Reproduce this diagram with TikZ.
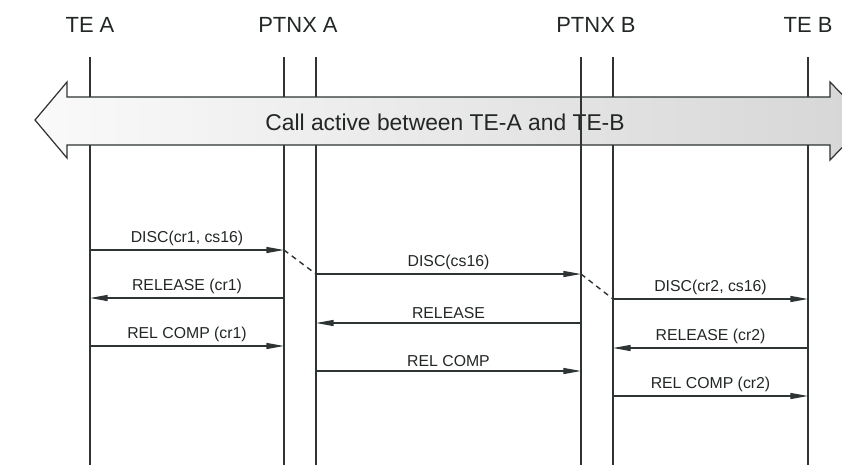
\documentclass[tikz,border=0pt]{standalone}
\usepackage{fontspec}
\setmainfont{Liberation Sans}
\usetikzlibrary{arrows.meta, calc}
\definecolor{inkgray}{HTML}{2E3333}
\definecolor{textgray}{HTML}{222626}

\begin{document}
\begin{tikzpicture}[
  x=0.02cm, y=-0.02cm,
  lifeHead/.style={font=\fontsize{12.5}{14}\selectfont, text=textgray, inner sep=0pt},
  lifeLine/.style={draw=inkgray, line width=1.5pt},
  msg/.style={draw=inkgray, line width=0.7pt, -{Triangle[length=10pt, width=3.4pt]}},
  msgLabel/.style={font=\fontsize{9}{10}\selectfont, text=textgray, midway, above, inner sep=2pt},
  relay/.style={draw=inkgray, line width=0.8pt, dash pattern=on 3pt off 2.5pt},
  callBand/.style={draw=inkgray, line width=0.7pt, left color=gray!4, right color=gray!32},
  bandText/.style={font=\fontsize{13}{15}\selectfont, text=textgray, inner sep=0pt}
]
\useasboundingbox (0,0) rectangle (842,464);
\clip (0,0) rectangle (842,464);

% Entities
\node[lifeHead] (teA) at (90,25) {TE A};
\node[lifeHead] (ptnxA) at (298,25) {PTNX A};
\node[lifeHead] (ptnxB) at (596,25) {PTNX B};
\node[lifeHead] (teB) at (808,25) {TE B};

% Lifelines (two per PTNX)
\coordinate (top) at (0,57);
\coordinate (bottom) at (0,470);
\coordinate (ptnxAl) at (284,57);
\coordinate (ptnxAr) at (316,57);
\coordinate (ptnxBl) at (581,57);
\coordinate (ptnxBr) at (613,57);

\draw[lifeLine] (teA |- top) -- (teA |- bottom);
\draw[lifeLine] (ptnxAl) -- (ptnxAl |- bottom);
\draw[lifeLine] (ptnxAr) -- (ptnxAr |- bottom);
\draw[lifeLine] (ptnxBl) -- (ptnxBl |- bottom);
\draw[lifeLine] (ptnxBr) -- (ptnxBr |- bottom);
\draw[lifeLine] (teB |- top) -- (teB |- bottom);

% Active call band
\draw[callBand] (35,120) -- (67,82) -- (67,97) -- (830,97) -- (830,82)
  -- (868,121) -- (830,160) -- (830,145) -- (67,145) -- (67,158) -- cycle;
\node[bandText] (callActive) at (445,122) {Call active between TE-A and TE-B};
\draw[lifeLine] (ptnxBl |- 0,97) -- (ptnxBl |- 0,145);

% Message levels
\coordinate (m1) at (0,250);
\coordinate (m2) at (0,274);
\coordinate (m3) at (0,299);
\coordinate (m4) at (0,298);
\coordinate (m5) at (0,323);
\coordinate (m6) at (0,348);
\coordinate (m7) at (0,346);
\coordinate (m8) at (0,371);
\coordinate (m9) at (0,396);

% Clearing
\draw[msg] (teA |- m1) -- (ptnxAl |- m1) node[msgLabel] {DISC(cr1, cs16)};
\draw[relay] (ptnxAl |- m1) -- (ptnxAr |- m2);
\draw[msg] (ptnxAr |- m2) -- (ptnxBl |- m2) node[msgLabel] {DISC(cs16)};
\draw[relay] (ptnxBl |- m2) -- (ptnxBr |- m3);
\draw[msg] (ptnxBr |- m3) -- (teB |- m3) node[msgLabel] {DISC(cr2, cs16)};

% Release
\draw[msg] (ptnxAl |- m4) -- (teA |- m4) node[msgLabel] {RELEASE (cr1)};
\draw[msg] (ptnxBl |- m5) -- (ptnxAr |- m5) node[msgLabel] {RELEASE};
\draw[msg] (teB |- m6) -- (ptnxBr |- m6) node[msgLabel] {RELEASE (cr2)};

% Release complete
\draw[msg] (teA |- m7) -- (ptnxAl |- m7) node[msgLabel] {REL COMP (cr1)};
\draw[msg] (ptnxAr |- m8) -- (ptnxBl |- m8) node[msgLabel] {REL COMP};
\draw[msg] (ptnxBr |- m9) -- (teB |- m9) node[msgLabel] {REL COMP (cr2)};

\end{tikzpicture}
\end{document}
